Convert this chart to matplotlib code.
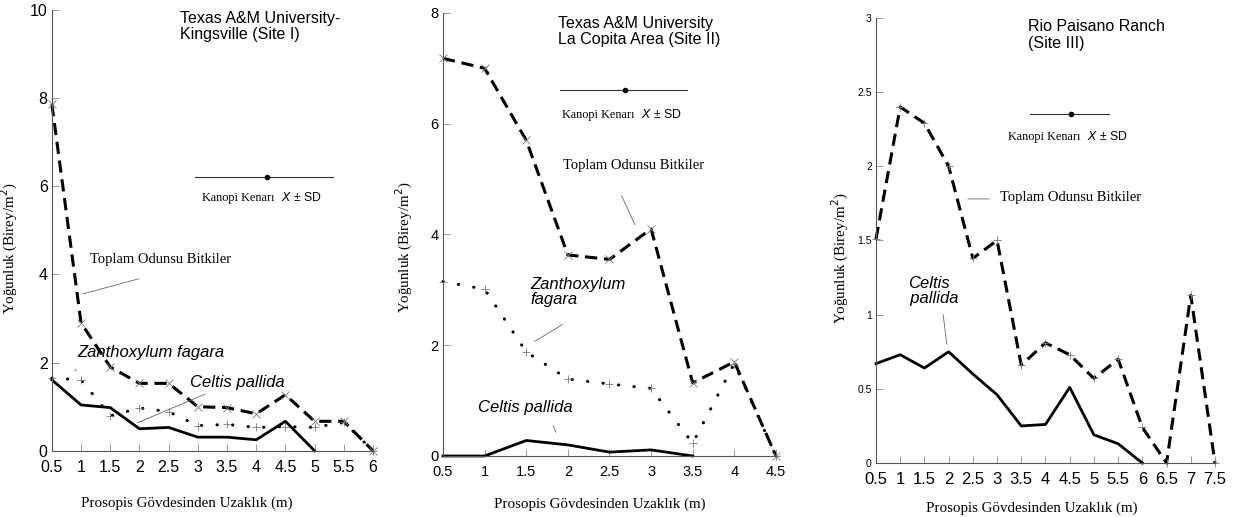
import matplotlib.pyplot as plt

# Site I - Texas A&M University-Kingsville
x1 = [0.5, 1, 1.5, 2, 2.5, 3, 3.5, 4, 4.5, 5, 5.5, 6]
total1 = [7.86, 2.9, 1.9, 1.53, 1.53, 1.0, 0.98, 0.84, 1.27, 0.67, 0.67, 0.0]
zanth1 = [1.65, 1.61, 0.79, 0.97, 0.89, 0.57, 0.6, 0.53, 0.55, 0.53, 0.65, 0.0]
celtis1_x = [0.5, 1, 1.5, 2, 2.5, 3, 3.5, 4, 4.5, 5]
celtis1 = [1.61, 1.04, 0.98, 0.5, 0.53, 0.31, 0.31, 0.25, 0.67, 0.0]

# Site II - La Copita Area
x2 = [0.5, 1, 1.5, 2, 2.5, 3, 3.5, 4, 4.5]
total2 = [7.18, 7.0, 5.7, 3.63, 3.55, 4.1, 1.32, 1.7, 0.0]
zanth2 = [3.15, 3.01, 1.88, 1.39, 1.3, 1.22, 0.23, 1.67, 0.0]
celtis2_x = [0.5, 1, 1.5, 2, 2.5, 3, 3.5]
celtis2 = [0.0, 0.0, 0.28, 0.2, 0.07, 0.11, 0.0]

# Site III - Rio Paisano Ranch
x3 = [0.5, 1, 1.5, 2, 2.5, 3, 3.5, 4, 4.5, 5, 5.5, 6, 6.5, 7, 7.5]
total3 = [1.51, 2.4, 2.29, 2.0, 1.38, 1.5, 0.66, 0.81, 0.73, 0.57, 0.7, 0.24, 0.0, 1.13, 0.0]
celtis3_x = [0.5, 1, 1.5, 2, 2.5, 3, 3.5, 4, 4.5, 5, 5.5, 6]
celtis3 = [0.67, 0.73, 0.64, 0.75, 0.6, 0.46, 0.25, 0.26, 0.51, 0.19, 0.13, 0.0]

ylabel = 'Yoğunluk (Birey/m$^2$)'
xlabel = 'Prosopis Gövdesinden Uzaklık (m)'
serif = ['Liberation Serif', 'DejaVu Serif']
sans = ['Liberation Sans', 'DejaVu Sans']

dash = (0, (4, 2.2))
dot = (0, (0.1, 5))
mk = dict(markersize=6, markeredgewidth=0.6, markeredgecolor='#777777')

fig = plt.figure(figsize=(12.35, 5.17), dpi=100)


def style_axes(ax, xticks, yticks, xfs, yfs):
    for s in ['top', 'right']:
        ax.spines[s].set_visible(False)
    for s in ['left', 'bottom']:
        ax.spines[s].set_color('#555555')
        ax.spines[s].set_linewidth(0.8)
    ax.set_xticks(xticks)
    ax.set_xticklabels([('%g' % t) for t in xticks], fontsize=xfs, family=sans)
    ax.set_yticks(yticks)
    ax.set_yticklabels([('%g' % t) for t in yticks], fontsize=yfs, family=sans)
    ax.tick_params(direction='in', length=5, width=0.6, color='#888888')
    ax.tick_params(axis='x', pad=6.5)
    ax.tick_params(axis='y', pad=3)


def canopy_key(ax, x0, x1, xd, y, tx, ty):
    ax.plot([x0, x1], [y, y], color='#333333', lw=0.8, clip_on=False)
    ax.plot([xd], [y], 'o', color='black', ms=3, clip_on=False)
    t = ax.text(tx, ty, 'Kanopi Kenarı ', fontsize=8.8, family=serif, va='center')
    ax.annotate(' $\\mathit{X}$ ± SD', xy=(1, 0.5), xycoords=t, fontsize=8.8,
                family=sans, va='center')


def leader(ax, p0, p1):
    ax.annotate('', xy=p1, xytext=p0,
                arrowprops=dict(arrowstyle='-', color='#666666', lw=0.6))


def dotted(ax, x, y, marker):
    ax.plot(x, y, color='black', lw=2.2, ls=dot, dash_capstyle='round',
            clip_on=False)
    ax.plot(x, y, ls='none', marker=marker, clip_on=False, **mk)


# Panel 1
ax1 = fig.add_axes([0.042, 0.128, 0.26, 0.853])
ax1.plot(x1, total1, color='black', lw=2.2, ls=dash, marker='x', clip_on=False, **mk)
dotted(ax1, x1, zanth1, '+')
ax1.plot(celtis1_x, celtis1, color='black', lw=2, clip_on=False)
ax1.set_xlim(0.5, 6)
ax1.set_ylim(0, 10)
style_axes(ax1, x1, [0, 2, 4, 6, 8, 10], 11.5, 11.5)
ax1.set_xlabel(xlabel, fontsize=10.8, family=serif)
ax1.xaxis.set_label_coords(0.42, -0.104)
ax1.set_ylabel(ylabel, fontsize=10.8, family=serif)
ax1.yaxis.set_label_coords(-0.1, 0.46)
ax1.text(2.69, 9.97, 'Texas A&M University-\nKingsville (Site I)', fontsize=11.5,
         family=sans, va='top', linespacing=1.1)
canopy_key(ax1, 2.95, 5.31, 4.18, 6.21, 3.07, 5.74)
ax1.text(1.15, 4.33, 'Toplam Odunsu Bitkiler', fontsize=10.5, family=serif, va='center')
leader(ax1, (2.04, 3.92), (0.98, 3.54))
ax1.text(0.93, 2.22, 'Zanthoxylum fagara', fontsize=12, family=sans, style='italic',
         va='center')
leader(ax1, (0.95, 1.9), (0.86, 1.75))
ax1.text(2.86, 1.56, 'Celtis pallida', fontsize=12, family=sans, style='italic',
         va='center')
leader(ax1, (3.17, 1.31), (1.92, 0.61))

# Panel 2
ax2 = fig.add_axes([0.3587, 0.118, 0.2696, 0.857])
ax2.plot(x2, total2, color='black', lw=2.2, ls=dash, marker='x', clip_on=False, **mk)
dotted(ax2, x2, zanth2, '+')
ax2.plot(celtis2_x, celtis2, color='black', lw=2, clip_on=False)
ax2.set_xlim(0.5, 4.5)
ax2.set_ylim(0, 8)
style_axes(ax2, x2, [0, 2, 4, 6, 8], 10.5, 10.5)
ax2.set_xlabel(xlabel, fontsize=10.8, family=serif)
ax2.xaxis.set_label_coords(0.47, -0.093)
ax2.set_ylabel(ylabel, fontsize=10.8, family=serif)
ax2.yaxis.set_label_coords(-0.085, 0.47)
ax2.text(1.88, 7.95, 'Texas A&M University\nLa Copita Area (Site II)', fontsize=11.5,
         family=sans, va='top', linespacing=1.1)
canopy_key(ax2, 1.905, 3.43, 2.69, 6.6, 1.93, 6.16)
ax2.text(1.94, 5.25, 'Toplam Odunsu Bitkiler', fontsize=10.5, family=serif, va='center')
leader(ax2, (2.63, 4.75), (2.82, 4.13))
ax2.text(1.545, 2.96, 'Zanthoxylum\nfagara', fontsize=12, family=sans, style='italic',
         va='center', linespacing=1.0)
leader(ax2, (1.965, 2.4), (1.57, 2.04))
ax2.text(0.92, 0.88, 'Celtis pallida', fontsize=12, family=sans, style='italic',
         va='center')
leader(ax2, (1.81, 0.6), (1.87, 0.38))

# Panel 3
ax3 = fig.add_axes([0.7093, 0.1044, 0.2745, 0.861])
ax3.plot(x3, total3, color='black', lw=2.2, ls=dash, marker='+', clip_on=False, **mk)
ax3.plot(celtis3_x, celtis3, color='black', lw=2, clip_on=False)
ax3.set_xlim(0.5, 7.5)
ax3.set_ylim(0, 3)
style_axes(ax3, x3, [0, 0.5, 1, 1.5, 2, 2.5, 3], 12, 7.5)
ax3.set_xlabel(xlabel, fontsize=10.8, family=serif)
ax3.xaxis.set_label_coords(0.46, -0.087)
ax3.set_ylabel(ylabel, fontsize=10.8, family=serif)
ax3.yaxis.set_label_coords(-0.075, 0.46)
ax3.text(3.64, 2.99, 'Rio Paisano Ranch\n(Site III)', fontsize=11.5,
         family=sans, va='top', linespacing=1.1)
canopy_key(ax3, 3.68, 5.31, 4.53, 2.35, 3.23, 2.2)
ax3.text(3.06, 1.79, 'Toplam Odunsu Bitkiler', fontsize=10.5, family=serif, va='center')
leader(ax3, (2.34, 1.78), (2.9, 1.78))
ax3.text(1.6, 1.16, 'Celtis\n  pallida', fontsize=12, family=sans, style='italic',
         va='center', ha='center', linespacing=1.0)
leader(ax3, (1.88, 1.02), (1.97, 0.78))

fig.savefig('out.png', dpi=100)
